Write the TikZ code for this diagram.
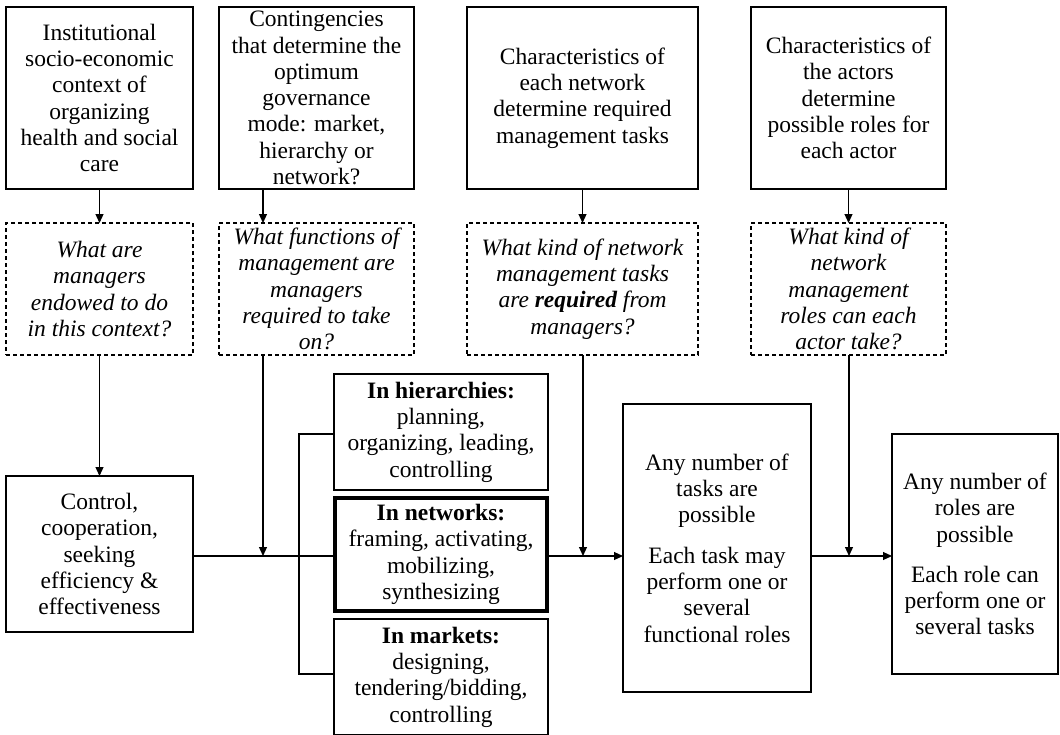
\documentclass[tikz,border=0pt]{standalone}
\usepackage{fontspec}
\setmainfont{Liberation Serif}
\usetikzlibrary{arrows.meta}
\begin{document}
\begin{tikzpicture}[x=1pt,y=-1pt,
  every node/.style={inner sep=0pt,outer sep=0pt,align=center,
    font=\fontsize{23.5}{26.3}\selectfont},
  solidbox/.style={draw,line width=1.2pt,minimum width=#1},
  qbox/.style={draw,line width=1.2pt,dash pattern=on 4pt off 3pt,
    minimum width=#1,minimum height=132pt,font=\fontsize{23.5}{26.3}\selectfont\itshape},
  thickbox/.style={draw,line width=3.5pt,minimum width=#1},
  link/.style={line width=1.2pt},
  arr/.style={line width=1.2pt,-{Triangle[length=9pt,width=8pt]}}]
\useasboundingbox (0,0) rectangle (1060,734);

% top row: determinants
\node[solidbox=187,minimum height=182] (a1) at (99.5,98)
  {Institutional\\socio-economic\\context of\\organizing\\health and social\\care};
\node[solidbox=195,minimum height=182] (a2) at (316.5,98)
  {Contingencies\\that determine the\\optimum\\governance\\mode: market,\\hierarchy or\\network?};
\node[solidbox=231,minimum height=182] (a3) at (582.5,98)
  {Characteristics of\\each network\\determine required\\management tasks};
\node[solidbox=195,minimum height=182] (a4) at (848.5,98)
  {Characteristics of\\the actors\\determine\\possible roles for\\each actor};

% second row: questions
\node[qbox=187] (b1) at (99.5,289)
  {What are\\managers\\endowed to do\\in this context?};
\node[qbox=195] (b2) at (316.5,289)
  {What functions of\\management are\\managers\\required to take\\on?};
\node[qbox=231] (b3) at (582.5,289)
  {What kind of network\\management tasks\\are \textbf{required} from\\managers?};
\node[qbox=195] (b4) at (848.5,289)
  {What kind of\\network\\management\\roles can each\\actor take?};

% lower row
\node[solidbox=187,minimum height=156] (ctrl) at (99.5,554)
  {Control,\\cooperation,\\seeking\\efficiency \&\\effectiveness};
\node[solidbox=214,minimum height=116] (hier) at (441,432)
  {\textbf{In hierarchies:}\\planning,\\organizing, leading,\\controlling};
\node[thickbox=212,minimum height=113] (net) at (441,554.5)
  {\textbf{In networks:}\\framing, activating,\\mobilizing,\\synthesizing};
\node[solidbox=214,minimum height=116] (mkt) at (441,677)
  {\textbf{In markets:}\\designing,\\tendering/bidding,\\controlling};
\node[solidbox=188,minimum height=288] (tasks) at (717,548)
  {Any number of\\tasks are\\possible\\[14pt]Each task may\\perform one or\\several\\functional roles};
\node[solidbox=166,minimum height=240] (roles) at (975,554)
  {Any number of\\roles are\\possible\\[14pt]Each role can\\perform one or\\several tasks};

% junctions on the main line
\coordinate (j1) at (263,556);
\coordinate (j2) at (583,556);
\coordinate (j3) at (849,556);
\coordinate (brtop) at (299,434);
\coordinate (brbot) at (299,674);

% downward arrows
\draw[arr] (a1) -- (b1);
\draw[arr] (b1) -- (ctrl);
\draw[arr] (a2.south -| j1) -- (b2.north -| j1);
\draw[arr] (b2.south -| j1) -- (j1);
\draw[arr] (a3) -- (b3);
\draw[arr] (b3.south -| j2) -- (j2);
\draw[arr] (a4) -- (b4);
\draw[arr] (b4.south -| j3) -- (j3);

% main flow
\draw[link] (ctrl.east |- j1) -- (net.west |- j1);
\draw[link] (hier.west |- brtop) -- (brtop) -- (brbot) -- (mkt.west |- brbot);
\draw[arr] (net.east |- j2) -- (tasks.west |- j2);
\draw[arr] (tasks.east |- j3) -- (roles.west |- j3);
\end{tikzpicture}
\end{document}
